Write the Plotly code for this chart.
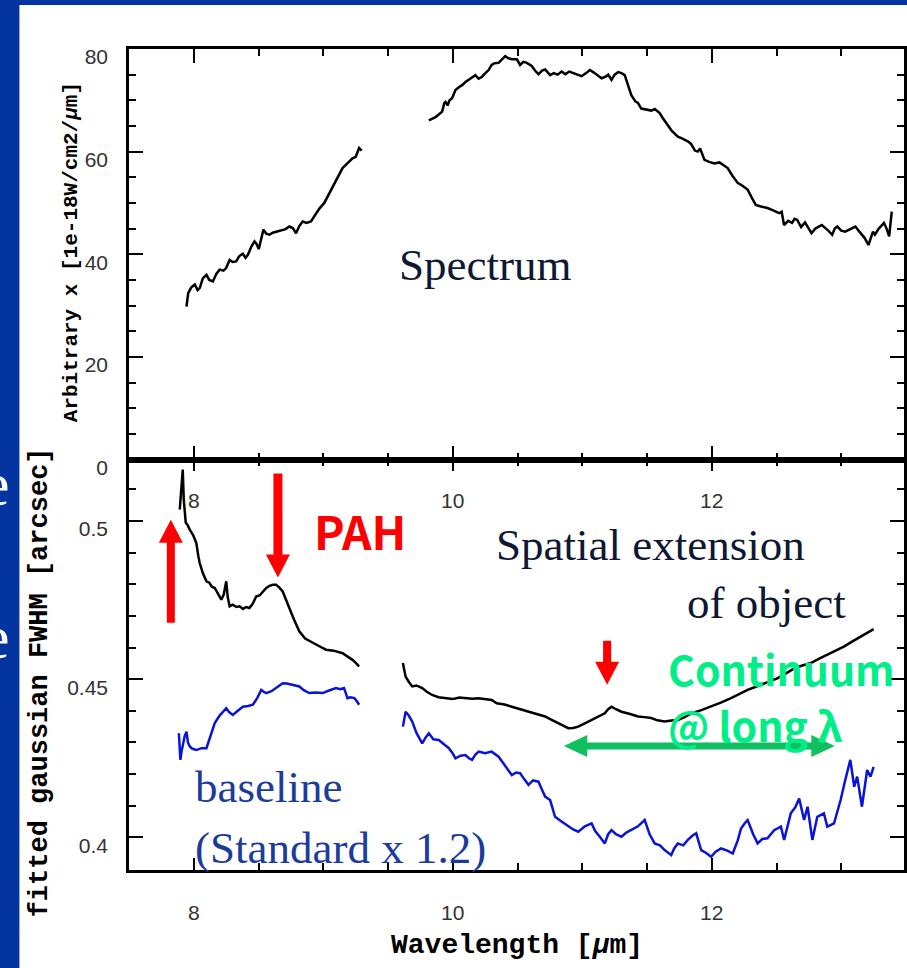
import plotly.graph_objects as go

# ---------------- data ----------------
# Spectrum (top panel), two segments separated by a gap
spec_x = [7.944, 7.957, 7.98, 8.008, 8.03, 8.046, 8.07, 8.098, 8.12, 8.148, 8.175, 8.2, 8.23, 8.25,
          8.277, 8.30, 8.328, 8.35, 8.379, 8.40, 8.418, 8.445, 8.469, 8.485, 8.502, 8.52, 8.538, 8.56,
          8.585, 8.61, 8.636, 8.68, 8.71, 8.738, 8.765, 8.79, 8.815, 8.841, 8.87, 8.905, 8.94, 8.97,
          9.008, 9.04, 9.072, 9.11, 9.149, 9.19, 9.226, 9.251, 9.265, 9.277, 9.297,
          None,
          9.815, 9.84, 9.867, 9.89, 9.918, 9.935, 9.944, 9.96, 9.975, 9.995, 10.021, 10.05, 10.075,
          10.098, 10.13, 10.155, 10.175, 10.2, 10.226, 10.252, 10.277, 10.30, 10.32, 10.354, 10.38,
          10.405, 10.43, 10.456, 10.495, 10.52, 10.545, 10.572, 10.61, 10.635, 10.662, 10.69, 10.713,
          10.735, 10.752, 10.78, 10.81, 10.84, 10.87, 10.9, 10.918, 10.95, 10.975, 10.995, 11.03,
          11.059, 11.09, 11.12, 11.149, 11.18, 11.2, 11.226, 11.25, 11.277, 11.303, 11.328, 11.35,
          11.379, 11.41, 11.43, 11.456, 11.49, 11.533, 11.56, 11.598, 11.62, 11.662, 11.69, 11.738,
          11.77, 11.815, 11.84, 11.87, 11.892, 11.91, 11.944, 11.98, 12.02, 12.06, 12.09, 12.123,
          12.16, 12.2, 12.24, 12.277, 12.31, 12.34, 12.38, 12.43, 12.47, 12.52, 12.54, 12.558, 12.59,
          12.62, 12.64, 12.66, 12.69, 12.72, 12.77, 12.8, 12.85, 12.88, 12.9, 12.93, 12.95, 12.97,
          13.0, 13.03, 13.07, 13.11, 13.14, 13.18, 13.21, 13.23, 13.245, 13.26, 13.29, 13.33, 13.35,
          13.37, 13.38, 13.39]
spec_y = [29.8, 32.4, 33.5, 34.1, 33.0, 33.4, 35.3, 36.0, 35.0, 34.7, 36.2, 37.0, 36.8, 37.3,
          38.9, 38.5, 38.6, 39.6, 40.1, 39.3, 39.9, 41.5, 42.5, 42.0, 41.0, 43.0, 44.8, 44.0,
          43.8, 44.2, 44.4, 44.6, 44.9, 45.4, 45.1, 44.1, 45.5, 46.4, 46.1, 46.4, 47.8, 48.9,
          50.0, 51.6, 53.2, 55.0, 56.8, 57.8, 58.7, 59.0, 59.8, 60.7, 60.2,
          None,
          66.1, 66.4, 66.7, 67.2, 67.8, 69.5, 69.7, 69.0, 70.0, 70.4, 72.0, 72.6, 73.0,
          73.6, 74.1, 74.6, 74.9, 74.2, 74.6, 75.3, 75.9, 76.9, 77.2, 77.3, 78.0,
          78.6, 78.2, 78.0, 78.0, 76.9, 77.5, 77.3, 76.7, 75.8, 75.1, 75.8, 76.0,
          75.4, 74.9, 75.3, 75.0, 75.6, 75.1, 75.6, 75.4, 75.2, 74.9, 74.7, 75.3,
          75.9, 75.4, 74.9, 74.3, 74.6, 75.0, 74.0, 75.0, 75.5, 75.3, 74.9, 73.4,
          71.0, 69.8, 69.5, 68.4, 68.2, 68.0, 68.3, 67.5, 66.6, 65.2, 64.1, 62.9,
          62.6, 62.0, 61.5, 60.2, 60.0, 60.6, 58.4, 58.0, 57.7, 57.9, 57.3, 56.8,
          55.3, 53.9, 53.3, 52.6, 51.0, 49.6, 49.3, 49.0, 48.6, 48.0, 48.3, 45.7, 46.5,
          46.1, 46.9, 46.7, 45.3, 46.2, 44.1, 45.0, 45.7, 45.1, 44.6, 43.8, 45.0, 45.4,
          44.6, 44.4, 44.9, 45.4, 44.4, 43.2, 41.8, 43.5, 44.4, 43.8, 45.0, 46.1, 45.0,
          43.5, 45.5, 48.3]

# Fitted FWHM of the object (bottom panel, black)
fwhm_x = [7.892, 7.904, 7.915, 7.923, 7.938, 7.955, 7.969, 7.995, 8.02, 8.035, 8.046, 8.07, 8.098,
          8.12, 8.14, 8.162, 8.19, 8.213, 8.232, 8.251, 8.262, 8.277, 8.30, 8.33, 8.354, 8.38, 8.405,
          8.43, 8.455, 8.482, 8.51, 8.533, 8.56, 8.585, 8.61, 8.636, 8.66, 8.687, 8.71, 8.738, 8.775,
          8.815, 8.86, 8.918, 8.97, 9.021, 9.08, 9.149, 9.19, 9.226, 9.255, 9.277,
          None,
          9.615, 9.625, 9.636, 9.66, 9.687, 9.72, 9.764, 9.80, 9.841, 9.89, 9.944, 10.0, 10.05,
          10.098, 10.15, 10.2, 10.25, 10.30, 10.34, 10.40, 10.456, 10.52, 10.585, 10.65, 10.713,
          10.76, 10.815, 10.86, 10.892, 10.93, 10.969, 11.02, 11.072, 11.12, 11.174, 11.2, 11.226,
          11.26, 11.303, 11.37, 11.431, 11.48, 11.533, 11.58, 11.636, 11.69, 11.738, 11.79, 11.841,
          11.92, 11.995, 12.07, 12.149, 12.21, 12.277, 12.34, 12.405, 12.46, 12.51, 12.58, 12.64,
          12.70, 12.765, 12.83, 12.89, 12.95, 13.02, 13.09, 13.15, 13.2, 13.25]
fwhm_y = [0.5036, 0.5093, 0.5162, 0.5067, 0.4995, 0.4985, 0.4972, 0.4955, 0.4930, 0.4890, 0.4867,
          0.4835, 0.4809, 0.4805, 0.4792, 0.4788, 0.4765, 0.4751, 0.4768, 0.4809, 0.4760, 0.4730,
          0.4735, 0.4728, 0.4730, 0.4722, 0.4728, 0.4725, 0.4738, 0.4761, 0.4765, 0.4777, 0.4788,
          0.4795, 0.4798, 0.4798, 0.4790, 0.4777, 0.4752, 0.4725, 0.4688, 0.4651, 0.4628, 0.4614,
          0.4604, 0.4593, 0.4590, 0.4582, 0.4571, 0.4561, 0.4550, 0.4540,
          None,
          0.4551, 0.4525, 0.4508, 0.4492, 0.4477, 0.4480, 0.4472, 0.4460, 0.4450, 0.4443, 0.4440,
          0.4437, 0.4442, 0.4440, 0.4438, 0.4440, 0.4436, 0.4434, 0.4424, 0.4420, 0.4413, 0.4405,
          0.4397, 0.4390, 0.4382, 0.4372, 0.4361, 0.4350, 0.4345, 0.4346, 0.4350, 0.4360, 0.4371,
          0.4380, 0.4392, 0.4405, 0.4413, 0.4405, 0.4397, 0.4390, 0.4382, 0.4380, 0.4377, 0.4370,
          0.4366, 0.4369, 0.4371, 0.4380, 0.4392, 0.4402, 0.4413, 0.4426, 0.4440, 0.4453, 0.4466,
          0.4476, 0.4487, 0.4495, 0.4503, 0.4520, 0.4535, 0.4543, 0.4551, 0.4565, 0.4577, 0.4590,
          0.4603, 0.4620, 0.4635, 0.4645, 0.4658]

# Baseline: standard star FWHM x 1.2 (bottom panel, blue)
base_x = [7.885, 7.89, 7.897, 7.905, 7.918, 7.93, 7.944, 7.955, 7.969, 7.99, 8.02, 8.06, 8.098,
          8.13, 8.162, 8.2, 8.23, 8.251, 8.275, 8.302, 8.34, 8.379, 8.42, 8.456, 8.49, 8.521, 8.54,
          8.559, 8.6, 8.636, 8.66, 8.687, 8.72, 8.764, 8.79, 8.815, 8.85, 8.892, 8.94, 8.995, 9.05,
          9.098, 9.13, 9.16, 9.175, 9.187, 9.21, 9.24, 9.26, 9.277,
          None,
          9.615, 9.625, 9.636, 9.66, 9.687, 9.72, 9.764, 9.79, 9.815, 9.85, 9.892, 9.93, 9.97, 10.0,
          10.021, 10.06, 10.098, 10.125, 10.149, 10.175, 10.2, 10.25, 10.30, 10.354, 10.38, 10.405,
          10.43, 10.456, 10.49, 10.52, 10.55, 10.585, 10.62, 10.662, 10.69, 10.713, 10.752, 10.77,
          10.79, 10.84, 10.892, 10.93, 10.969, 11.02, 11.072, 11.1, 11.14, 11.174, 11.2, 11.226,
          11.26, 11.303, 11.34, 11.379, 11.43, 11.482, 11.52, 11.559, 11.6, 11.636, 11.66, 11.687,
          11.71, 11.738, 11.78, 11.815, 11.85, 11.88, 11.9, 11.918, 11.96, 11.995, 12.03, 12.072,
          12.12, 12.162, 12.2, 12.226, 12.255, 12.277, 12.32, 12.354, 12.39, 12.43, 12.482, 12.534,
          12.559, 12.59, 12.61, 12.645, 12.675, 12.713, 12.74, 12.777, 12.815, 12.866, 12.892,
          12.944, 12.97, 12.995, 13.03, 13.07, 13.1, 13.123, 13.16, 13.2, 13.226, 13.25]
base_y = [0.4329, 0.4290, 0.4245, 0.4270, 0.4297, 0.4320, 0.4334, 0.4300, 0.4287, 0.4280, 0.4276,
          0.4282, 0.4282, 0.4320, 0.4361, 0.4385, 0.4400, 0.4408, 0.4395, 0.4387, 0.4400, 0.4413,
          0.4415, 0.4419, 0.4440, 0.4466, 0.4460, 0.4456, 0.4462, 0.4472, 0.4480, 0.4487, 0.4486,
          0.4482, 0.4480, 0.4477, 0.4465, 0.4456, 0.4458, 0.4456, 0.4465, 0.4472, 0.4468, 0.4472,
          0.4455, 0.4440, 0.4443, 0.4440, 0.4430, 0.4419,
          None,
          0.4350, 0.4380, 0.4397, 0.4385, 0.4366, 0.4330, 0.4297, 0.4315, 0.4329, 0.4310, 0.4308,
          0.4295, 0.4282, 0.4265, 0.4250, 0.4258, 0.4260, 0.4250, 0.4245, 0.4262, 0.4271, 0.4266,
          0.4271, 0.4255, 0.4240, 0.4223, 0.4210, 0.4197, 0.4205, 0.4203, 0.4185, 0.4166, 0.4180,
          0.4176, 0.4150, 0.4129, 0.4118, 0.4090, 0.4065, 0.4050, 0.4034, 0.4025, 0.4018, 0.4035,
          0.4044, 0.4020, 0.4000, 0.3981, 0.4010, 0.4023, 0.4010, 0.4002, 0.4015, 0.4023, 0.4035,
          0.4055, 0.4010, 0.3981, 0.3975, 0.3960, 0.3952, 0.3944, 0.3965, 0.3981, 0.3975, 0.3992,
          0.4005, 0.4013, 0.3985, 0.3960, 0.3950, 0.3939, 0.3955, 0.3965, 0.3958, 0.3949, 0.3990,
          0.4028, 0.4045, 0.4055, 0.4010, 0.3981, 0.3995, 0.3997, 0.4023, 0.4034, 0.3992, 0.4040,
          0.4076, 0.4095, 0.4123, 0.4055, 0.4097, 0.3992, 0.4065, 0.4076, 0.4034, 0.4044, 0.4080,
          0.4118, 0.4180, 0.4245, 0.4160, 0.4192, 0.4097, 0.4213, 0.4192, 0.4223]

x_range = [7.5, 13.4846]
spec_range = [0, 80]
fwhm_range = [0.3897, 0.5194]

# ---------------- page geometry ----------------
W, H = 907, 968
ML, MR, MT, MB = 129, 0, 49, 98
PW, PH = W - ML - MR, H - MT - MB


def px_x(px):
    return (px - ML) / PW


def px_y(py):
    return (H - MB - py) / PH


SLIDE_BLUE = "#0434a0"
TICK_FONT = dict(family="Liberation Sans, Arial, sans-serif", size=21, color="#333333")
MONO = "Courier New, Liberation Mono, monospace"
SERIF = "Liberation Serif, Times New Roman, serif"
GOTHIC = "Noto Sans CJK JP, sans-serif"

fig = go.Figure()
fig.add_trace(go.Scatter(x=spec_x, y=spec_y, xaxis="x", yaxis="y", mode="lines",
                         line=dict(color="black", width=2.5), connectgaps=False, showlegend=False))
fig.add_trace(go.Scatter(x=base_x, y=base_y, xaxis="x2", yaxis="y2", mode="lines",
                         line=dict(color="#0a14d6", width=2.5), connectgaps=False, showlegend=False))
fig.add_trace(go.Scatter(x=fwhm_x, y=fwhm_y, xaxis="x2", yaxis="y2", mode="lines",
                         line=dict(color="black", width=2.5), connectgaps=False, showlegend=False))


def x_axis(anchor, major_len, standoff):
    return dict(anchor=anchor, domain=[0, 1], range=x_range, showline=True, linewidth=2.5,
                linecolor="black", mirror="ticks", ticks="inside", tick0=8, dtick=2,
                ticklen=major_len, tickwidth=2, tickcolor="black",
                minor=dict(ticks="inside", tick0=8, dtick=0.5, ticklen=7, tickwidth=2,
                           tickcolor="black", showgrid=False),
                showgrid=False, zeroline=False, tickfont=TICK_FONT, ticklabelstandoff=standoff)


def y_axis(anchor, domain, rng, tick0, dtick, minor_dtick):
    return dict(anchor=anchor, domain=domain, range=rng, showline=True, linewidth=2.5,
                linecolor="black", mirror="ticks", ticks="inside", tick0=tick0, dtick=dtick,
                ticklen=14, tickwidth=2, tickcolor="black",
                minor=dict(ticks="inside", tick0=tick0, dtick=minor_dtick, ticklen=7, tickwidth=2,
                           tickcolor="black", showgrid=False),
                showgrid=False, zeroline=False, tickfont=TICK_FONT,
                ticklabelstandoff=14, ticklabelshift=8)


fig.update_layout(
    width=W, height=H,
    margin=dict(l=ML, r=MR, t=MT, b=MB, pad=0),
    paper_bgcolor=SLIDE_BLUE, plot_bgcolor="white",
    xaxis=x_axis("y", 14, 21),
    xaxis2=x_axis("y2", 12, 22),
    yaxis=y_axis("x", [0.5, 1], spec_range, 0, 20, 5),
    yaxis2=y_axis("x2", [0, 0.5], fwhm_range, 0.4, 0.05, 0.01),
    showlegend=False,
)

# white slide panel behind the plot
fig.add_shape(type="rect", xref="paper", yref="paper", layer="below",
              x0=px_x(19), x1=px_x(915), y0=px_y(975), y1=px_y(5),
              fillcolor="white", line=dict(width=0))


def block_arrow(x, y, path, color):
    fig.add_shape(type="path", xref="x2", yref="y2", xsizemode="pixel", ysizemode="pixel",
                  xanchor=x, yanchor=y, path=path, fillcolor=color, line=dict(width=0),
                  layer="above")


RED = "#ff0000"
# upward arrow (tip at the top)
block_arrow(7.823, 0.5004, "M0,0 L-12,-23 L-4,-23 L-4,-103 L4,-103 L4,-23 L12,-23 Z", RED)
# PAH 8.6 um arrow (tip at the bottom)
block_arrow(8.65, 0.4821, "M0,0 L-12,23 L-4.5,23 L-4.5,104 L4.5,104 L4.5,23 L12,23 Z", RED)
# PAH 11.2 um arrow
block_arrow(11.192, 0.4482, "M0,0 L-12,23 L-4,23 L-4,44 L4,44 L4,23 L12,23 Z", RED)
# continuum range, double-headed
block_arrow(11.904, 0.4289,
            "M-135.5,0 L-112,11 L-112,3.5 L112,3.5 L112,11 L135.5,0 L112,-11 L112,-3.5 "
            "L-112,-3.5 L-112,-11 Z", "#10c060")

# ---------------- text ----------------
def note(text, x, y, size, color, family, xref="x2", yref="y2", **kw):
    fig.add_annotation(text=text, x=x, y=y, xref=xref, yref=yref, showarrow=False,
                       xanchor=kw.pop("xanchor", "left"), yanchor=kw.pop("yanchor", "middle"),
                       font=dict(size=size, color=color, family=family), **kw)


DARK = "#0f1833"
note("Spectrum", 9.569, 37.9, 45, DARK, SERIF, xref="x", yref="y")
note("Spatial extension", 10.315, 0.4925, 45, DARK, SERIF)
note("of object", 11.792, 0.4741, 45, DARK, SERIF)
note("baseline", 7.992, 0.4159, 45, "#1c3c9c", SERIF)
note("(Standard x 1.2)", 7.992, 0.3967, 45, "#1c3c9c", SERIF)
note("<b>PAH</b>", 8.915, 0.4972, 46, RED, GOTHIC)
note("<b>Continuum</b>", 11.646, 0.4536, 41, "#00ee88", GOTHIC)
note("<b>@ long λ</b>", 11.646, 0.4359, 41, "#00ee88", GOTHIC)

# axis titles
note("<b>Wavelength [<i>µ</i>m]</b>", px_x(519), px_y(945), 28, "black", MONO,
     xref="paper", yref="paper", xanchor="center")
note("<b>Arbitrary x [1e-18W/cm2/<i>µ</i>m]</b>", px_x(71), px_y(252), 21, "black", MONO,
     xref="paper", yref="paper", xanchor="center", textangle=-90)
note("<b>fitted gaussian FWHM [arcsec]</b>", px_x(40), px_y(682), 27, "black", MONO,
     xref="paper", yref="paper", xanchor="center", textangle=-90)

# slide text running off the left edge
note("e", px_x(12), px_y(484), 62, "white", SERIF, xref="paper", yref="paper", xanchor="right")
note("e", px_x(12), px_y(637), 62, "white", SERIF, xref="paper", yref="paper", xanchor="right")

fig.write_html("out.html")
